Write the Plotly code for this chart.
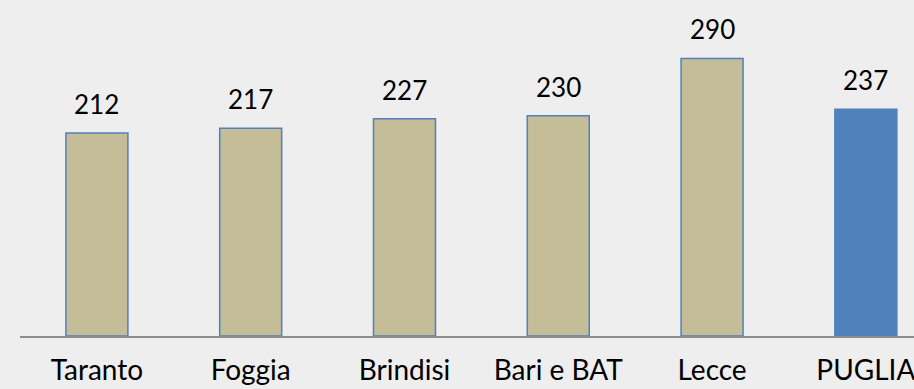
import plotly.graph_objects as go

# Values per province, plus the regional total
categories = ["Taranto", "Foggia", "Brindisi", "Bari e BAT", "Lecce", "PUGLIA"]
values = [212, 217, 227, 230, 290, 237]

province_fill = "#c4bd97"
region_fill = "#4f81bd"
edge_color = "#4f81bd"

fills = [region_fill if c == "PUGLIA" else province_fill for c in categories]

fig = go.Figure()
fig.add_trace(go.Bar(
    x=categories,
    y=values,
    width=0.403,
    marker=dict(color=fills, line=dict(color=edge_color, width=1.5)),
    hoverinfo="skip",
))

# Value labels above each bar
for c, v in zip(categories, values):
    fig.add_annotation(
        x=c, y=v, text=str(v), showarrow=False,
        yanchor="middle", yshift=29,
        font=dict(family="Lato", size=26, color="#000000"),
    )

bg = "#eeeeee"
fig.update_layout(
    width=914, height=389,
    margin=dict(l=20, r=0, t=0, b=53),
    paper_bgcolor=bg, plot_bgcolor=bg,
    showlegend=False,
    xaxis=dict(
        type="category",
        range=[-0.5, 5.313],
        automargin=False,
        showgrid=False, zeroline=False,
        showline=True, linecolor="#8c8c8c", linewidth=1.5,
        ticks="", ticklabelstandoff=9,
        tickfont=dict(family="Lato", size=28, color="#000000"),
    ),
    yaxis=dict(
        range=[0, 351],
        automargin=False,
        showgrid=False, zeroline=False, showline=False,
        showticklabels=False, ticks="",
    ),
)

fig.write_html("out.html")
